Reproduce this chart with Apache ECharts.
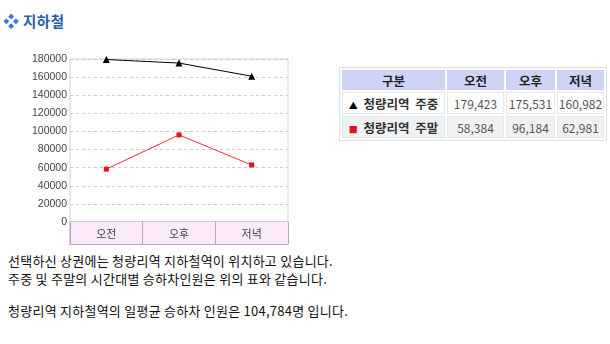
<!DOCTYPE html>
<html>
<head>
<meta charset="utf-8">
<script src="https://cdn.jsdelivr.net/npm/echarts@6/dist/echarts.min.js"></script>
<style>
  html, body { margin:0; padding:0; background:#fff; width:610px; height:344px; overflow:hidden; font-family:"Noto Sans CJK KR", "Noto Sans", sans-serif; }
  #title { position:absolute; left:3px; top:10px; height:20px; line-height:20px; white-space:nowrap; }
  #title .dia { color:#3a78cc; font-size:16px; display:inline-block; width:20px; }
  #title .t { color:#2a5ea8; font-size:14.5px; font-weight:bold; letter-spacing:0.5px; }
  #chart { position:absolute; left:0; top:0; width:300px; height:250px; }
  #tbl { position:absolute; left:339px; top:67px; border:1px solid #dde1e6; border-collapse:separate; border-spacing:2px; font-size:12px; }
  #tbl td, #tbl th { padding:0; text-align:center; white-space:nowrap; }
  #tbl th { background:#cdd4f6; color:#222; font-weight:bold; height:20px; font-size:12.5px; }
  #tbl td { height:20px; border:1px solid #e6e8ea; color:#555; }
  #tbl tr.r2 td { background:#eff1f3; }
  #tbl td.name { color:#333; font-weight:bold; font-size:12.5px; word-spacing:3px; }
  .txt { position:absolute; left:8px; font-size:13px; letter-spacing:0.25px; color:#111; white-space:nowrap; line-height:14px; }
</style>
</head>
<body>
<div id="title"><span class="dia">❖</span><span class="t">지하철</span></div>
<div id="chart"></div>
<table id="tbl">
  <tr><th style="width:103px">구분</th><th style="width:57px">오전</th><th style="width:49px">오후</th><th style="width:47px">저녁</th></tr>
  <tr class="r1"><td class="name"><span style="font-size:9px;color:#000">▲</span> 청량리역 주중</td><td id="a0"></td><td id="a1"></td><td id="a2"></td></tr>
  <tr class="r2"><td class="name"><span style="font-size:9px;color:#e01020">■</span> 청량리역 주말</td><td id="b0"></td><td id="b1"></td><td id="b2"></td></tr>
</table>
<div class="txt" style="top:254px">선택하신 상권에는 청량리역 지하철역이 위치하고 있습니다.</div>
<div class="txt" style="top:272px">주중 및 주말의 시간대별 승하차인원은 위의 표와 같습니다.</div>
<div class="txt" style="top:304px">청량리역 지하철역의 일평균 승하차 인원은 104,784명 입니다.</div>
<script>
const categories = ['오전', '오후', '저녁'];
const weekday = [179423, 175531, 160982];
const weekend = [58384, 96184, 62981];
const seriesNames = ['청량리역 주중', '청량리역 주말'];

const fmt = v => v.toLocaleString('en-US');
weekday.forEach((v, i) => document.getElementById('a' + i).textContent = fmt(v));
weekend.forEach((v, i) => document.getElementById('b' + i).textContent = fmt(v));

const chart = echarts.init(document.getElementById('chart'), null, { renderer: 'canvas' });
chart.setOption({
  animation: false,
  grid: [
    { left: 70, top: 59, width: 218, height: 163, show: true, borderColor: '#d4d4d4', borderWidth: 1 },
    { left: 70, top: 222, width: 218, height: 22, show: true, borderColor: '#bca8bc', borderWidth: 1 }
  ],
  xAxis: [
    { type: 'category', gridIndex: 0, data: categories, boundaryGap: true,
      axisLine: { show: false }, axisTick: { show: false }, splitLine: { show: false },
      axisLabel: { margin: 6, fontSize: 11, color: '#444', fontFamily: 'Noto Sans CJK KR' } },
    { type: 'category', gridIndex: 1, data: categories, boundaryGap: true,
      axisLine: { show: true, lineStyle: { color: '#bca8bc' } }, axisTick: { show: false },
      axisLabel: { show: false },
      splitLine: { show: true, lineStyle: { color: '#bca8bc', width: 1 } },
      splitArea: { show: true, areaStyle: { color: ['#fbeafb'] } } }
  ],
  yAxis: [
    { type: 'value', gridIndex: 0, min: 0, max: 180000, interval: 20000,
      axisLine: { show: false }, axisTick: { show: false },
      axisLabel: { margin: 3, fontSize: 10.5, color: '#444', fontFamily: 'Liberation Sans', formatter: v => String(v) },
      splitLine: { show: true, lineStyle: { color: '#cccccc', type: [3, 3] } } },
    { type: 'value', gridIndex: 1, min: 0, max: 1, show: false }
  ],
  series: [
    { name: seriesNames[0], type: 'line', xAxisIndex: 0, yAxisIndex: 0, data: weekday,
      symbol: 'triangle', symbolSize: 7, showSymbol: true,
      lineStyle: { color: '#000', width: 1 }, itemStyle: { color: '#000' } },
    { name: seriesNames[1], type: 'line', xAxisIndex: 0, yAxisIndex: 0, data: weekend,
      symbol: 'rect', symbolSize: 5, showSymbol: true,
      lineStyle: { color: '#e8303a', width: 1 }, itemStyle: { color: '#e8101c' } }
  ]
});
</script>
</body>
</html>
